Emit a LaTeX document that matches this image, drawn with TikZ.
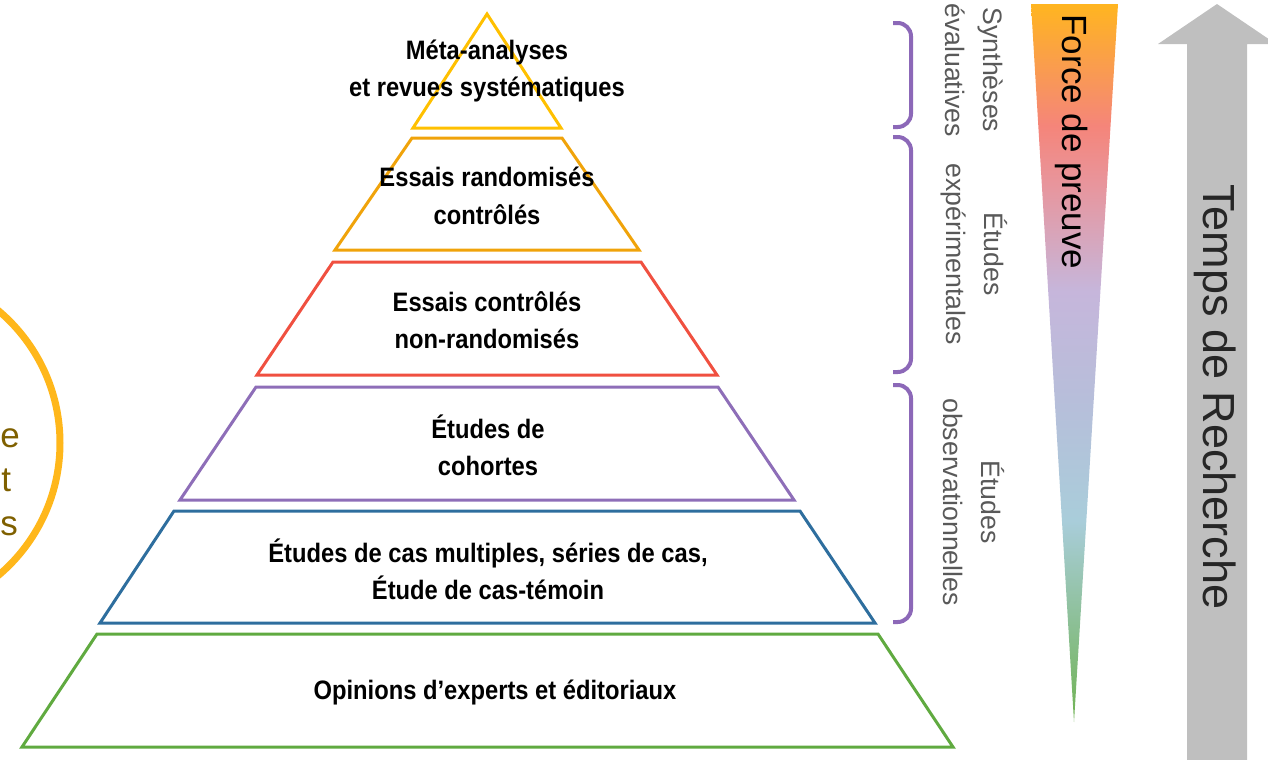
\documentclass[tikz,border=0pt]{standalone}
\usepackage{fontspec}
\setmainfont{Liberation Sans}
\newfontfamily\narrowfont[FakeStretch=0.89]{Liberation Sans}
\usepackage{xcolor}
\usepackage{tikz}

\definecolor{lvlyellow}{RGB}{255,192,0}
\definecolor{lvlorange}{RGB}{240,163,10}
\definecolor{lvlred}{RGB}{240,80,64}
\definecolor{lvlpurple}{RGB}{142,110,184}
\definecolor{lvlblue}{RGB}{46,110,158}
\definecolor{lvlgreen}{RGB}{96,170,64}
\definecolor{bracepurple}{RGB}{140,104,184}
\definecolor{sidegray}{RGB}{89,89,89}
\definecolor{arrowgray}{RGB}{191,191,191}
\definecolor{circgold}{RGB}{255,183,27}
\definecolor{circtext}{RGB}{127,96,0}

\pgfdeclareverticalshading{forcepreuve}{100bp}{%
  color(0bp)=(lvlgreen!90!white);
  color(25bp)=(lvlgreen!90!white);
  color(39bp)=(rgb,255:red,169;green,205;blue,218);
  color(47.5bp)=(rgb,255:red,183;green,190;blue,218);
  color(55bp)=(rgb,255:red,198;green,182;blue,219);
  color(62.5bp)=(rgb,255:red,232;green,149;blue,156);
  color(66.5bp)=(rgb,255:red,245;green,133;blue,122);
  color(75bp)=(rgb,255:red,255;green,181;blue,32);
  color(100bp)=(rgb,255:red,255;green,181;blue,32)}

\tikzset{
  level/.style={line width=2.25pt, line join=miter},
  lvltext/.style={align=center, inner sep=0.75pt, font=\narrowfont\bfseries\fontsize{20}{28}\selectfont},
  sidetext/.style={align=center, inner sep=0.75pt, rotate=-90, text=sidegray, font=\fontsize{20}{28.5}\selectfont},
  circtxt/.style={anchor=base west, inner sep=0pt, text=circtext, font=\fontsize{26.25}{30}\selectfont},
  bracket/.style={line width=3pt, bracepurple, rounded corners=10pt}
}

\begin{document}
\begin{tikzpicture}[x=0.75pt,y=0.75pt,yscale=-1,xscale=1]
\clip (0,0) rectangle (1268,760);

%Shape: Circle (left, cut)
\draw [circgold, line width=5.25pt] (-113,443) circle (173);
% Text Node
\node (c1) [circtxt] at (0,447) {e};
% Text Node
\node (c2) [circtxt] at (1,491) {t};
% Text Node
\node (c3) [circtxt] at (0,535) {s};

%Shape: Triangle [top]
\draw [level, lvlyellow] (487,14) -- (561,128) -- (413,128) -- cycle;
%Shape: Trapezoid [2]
\draw [level, lvlorange] (412,138) -- (562,138) -- (639,250) -- (335,250) -- cycle;
%Shape: Trapezoid [3]
\draw [level, lvlred] (333,262) -- (641,262) -- (717,375) -- (257,375) -- cycle;
%Shape: Trapezoid [4]
\draw [level, lvlpurple] (256,387) -- (718,387) -- (794,500) -- (180,500) -- cycle;
%Shape: Trapezoid [5]
\draw [level, lvlblue] (174,511) -- (800,511) -- (875,623) -- (100,623) -- cycle;
%Shape: Trapezoid [6]
\draw [level, lvlgreen] (97,634) -- (878,634) -- (953,747) -- (22,747) -- cycle;

% Text Node
\node (meta) [lvltext] at (487,71) {Méta-analyses\\et revues systématiques};
% Text Node
\node (rct) [lvltext] at (487,196) {Essais randomisés\\contrôlés};
% Text Node
\node (nrct) [lvltext] at (487,320) {Essais contrôlés\\non-randomisés};
% Text Node
\node (coh) [lvltext] at (488,445) {Études de\\cohortes};
% Text Node
\node (cas) [lvltext] at (488,569) {Études de cas multiples, séries de cas,\\Étude de cas-témoin};
% Text Node
\node (opin) [lvltext] at (495,692) {Opinions d’experts et éditoriaux};

%Shape: Brackets
\draw [bracket] (893,23) -- (911,23) -- (911,127) -- (893,127);
\draw [bracket] (893,137) -- (911,137) -- (911,372) -- (893,372);
\draw [bracket] (893,385) -- (911,385) -- (911,622) -- (893,622);

% Text Node
\node (synth) [sidetext] at (974,70) {Synthèses\\évaluatives};
% Text Node
\node (exper) [sidetext] at (974,254) {Études\\expérimentales};
% Text Node
\node (obs) [sidetext] at (974,502) {Études\\observationnelles};

%Shape: Triangle [force de preuve]
\shade [shading=forcepreuve] (1031,4) -- (1118,4) -- (1074,722) -- cycle;
% Text Node
\node (force) [rotate=-90, inner sep=0.75pt, font=\fontsize{26.25}{30}\selectfont] at (1072,142) {Force de preuve};

%Shape: Up Arrow
\fill [arrowgray] (1187,765) -- (1187,44) -- (1158,44) -- (1217,4) -- (1276,44) -- (1247,44) -- (1247,765) -- cycle;
% Text Node
\node (temps) [rotate=-90, inner sep=0.75pt, text={rgb,255:red,38;green,38;blue,38}, font=\fontsize{33.75}{38}\selectfont] at (1215,397) {Temps de Recherche};
\end{tikzpicture}
\end{document}
